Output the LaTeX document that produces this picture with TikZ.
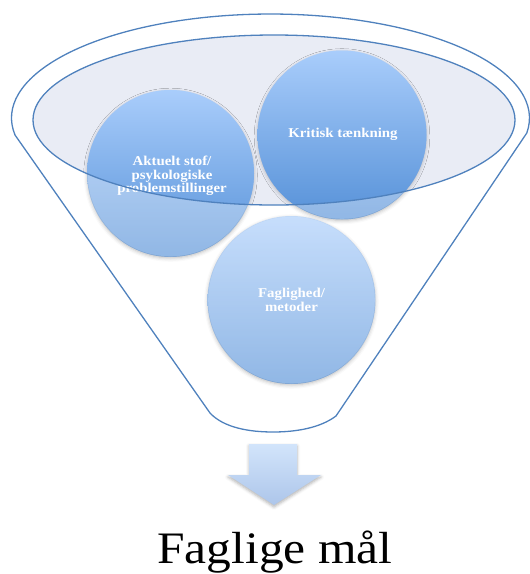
\documentclass[tikz,border=0pt]{standalone}
\usepackage{fontspec}
\setmainfont{Liberation Serif}
\newfontfamily\widefont[FakeStretch=1.1]{Liberation Serif}
\usetikzlibrary{shadows.blur}
\definecolor{funnelline}{HTML}{4F81BD}
\definecolor{ellfill}{HTML}{E9ECF5}
\definecolor{cTop}{HTML}{A9CDFB}
\definecolor{cBot}{HTML}{5691D8}
\definecolor{aTop}{HTML}{D2E4FB}
\definecolor{aBot}{HTML}{ADC6EA}
\tikzset{
  outline/.style={draw=funnelline, line width=1.3pt, line join=round},
  circshade/.style={top color=cTop, bottom color=cBot, draw=none},
  circbase/.style={fill=white, draw=none, blur shadow={shadow xshift=0pt, shadow yshift=-1.5pt, shadow blur radius=4pt, shadow opacity=30}},
  circtext/.style={text=white, align=center, font=\widefont\fontsize{13.5}{13.5}\selectfont\bfseries, inner sep=0pt},
}
\begin{document}
\begin{tikzpicture}[x=1pt,y=1pt]
\useasboundingbox (0,0) rectangle (530,-574);
% circle centres
\coordinate (cA) at (170.5,-173.5);
\coordinate (cK) at (342,-135);
\coordinate (cF) at (291.5,-300);
\coordinate (eC) at (274,-120);
% outer funnel
\coordinate (fL) at (15,-135);
\coordinate (fBL) at (210,-413);
\coordinate (fB) at (273,-432);
\coordinate (fBR) at (336,-416);
\draw[outline] (fL) arc[start angle=189.4, end angle=-8.3, x radius=259, y radius=104]
  -- (fBR) .. controls (320,-428) and (296,-432) .. (fB)
  .. controls (250,-432) and (224,-428) .. (fBL) -- cycle;
% inner ellipse fill
\fill[ellfill] (eC) ellipse[x radius=241, y radius=85];
% circle bases with shadows
\path[circbase] (cA) circle[radius=82.8];
\path[circbase] (cK) circle[radius=83.8];
\path[circbase] (cF) circle[radius=83.3];
% translucent circles
\path[circshade, fill opacity=0.65] (cA) circle[radius=83.5];
\path[circshade, fill opacity=0.65] (cK) circle[radius=84.5];
\path[circshade, fill opacity=0.65] (cF) circle[radius=84];
% opaque parts inside the ellipse
\begin{scope}
  \clip (eC) ellipse[x radius=241, y radius=85];
  \path[circshade] (cA) circle[radius=83.5];
  \path[circshade] (cK) circle[radius=84.5];
\end{scope}
% texts
\node[circtext] (tA) at (172,-176) {Aktuelt stof/\\psykologiske\\problemstillinger};
\node[circtext] (tK) at (343,-134) {Kritisk tænkning};
\node[circtext] (tF) at (291.5,-300) {Faglighed/\\metoder};
% ellipse outline
\draw[outline] (eC) ellipse[x radius=241, y radius=85];
% down arrow
\path[top color=aTop, bottom color=aBot, draw=none,
  blur shadow={shadow xshift=0pt, shadow yshift=-2pt, shadow blur radius=3pt, shadow opacity=30}]
  (249,-444) -- (297,-444) -- (297,-475) -- (321,-475) -- (274,-505) -- (228,-475) -- (249,-475) -- cycle;
% goal text
\node[anchor=base, font=\widefont\fontsize{45}{45}\selectfont, inner sep=0pt] (goal) at (275,-563) {Faglige mål};
\end{tikzpicture}
\end{document}
